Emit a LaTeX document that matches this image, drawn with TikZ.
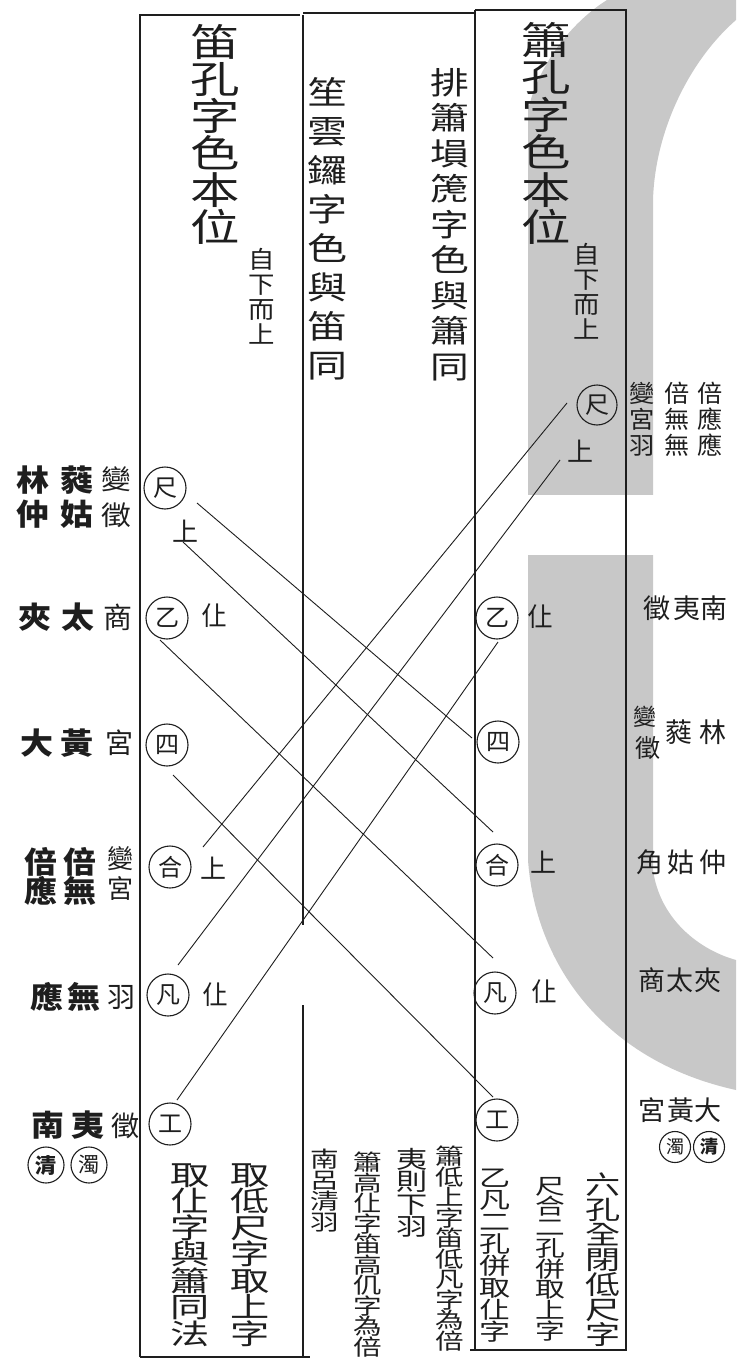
\documentclass[tikz,border=0pt]{standalone}
\usepackage{fontspec}
\usepackage{graphicx}
\setmainfont{Noto Sans CJK TC}
\usetikzlibrary{calc}
\definecolor{wm}{RGB}{200,200,200}
\definecolor{ink}{RGB}{30,30,30}
\newcommand\fz[2]{\fontsize{#1}{#2}\selectfont\lineskiplimit=-200pt\relax}
% vertical stack: #1 x-stretch, #2 font switch, #3 size, #4 leading, #5 characters separated by \\
\newcommand\VS[5]{\scalebox{#1}[1]{\vbox{#2\fz{#3}{#4}\let\\\cr\halign{\hfil##\hfil\cr#5\crcr}}}}
\newcommand\HS[2]{\scalebox{#1}[1]{#2}}
\begin{document}
\begin{tikzpicture}[x=1pt,y=-1pt,
  frame/.style={line width=1.1pt, draw=ink},
  conn/.style={line width=0.9pt, draw=ink},
  hole/.style={draw=ink, circle, line width=1.1pt, minimum size=42pt, inner sep=0pt, text=ink, font=\fz{24}{24}},
  seal/.style={draw=ink, circle, line width=1.1pt, inner sep=0pt, text=ink},
  vt/.style={anchor=north, inner sep=0pt, text=ink},
  lb/.style={inner sep=0pt, text=ink},
  bl/.style={lb, font=\bfseries\fz{30}{30}},
  rl/.style={lb, font=\fz{27}{27}},
]
\useasboundingbox (0,0) rectangle (736,1364);
\fill[white] (0,0) rectangle (736,1364);
% grey watermark band
\fill[wm] (607,0) -- (736,0) -- (736,20) .. controls (690,60) and (655,130) .. (653,200)
  -- (653,870) .. controls (660,920) and (700,950) .. (736,960) -- (736,1090)
  .. controls (600,1060) and (535,960) .. (528,860) -- (528,110)
  .. controls (540,60) and (575,20) .. (607,0) -- cycle;
\fill[white] (520,495) rectangle (660,555);
% frames
\draw[frame] (140,1357) -- (140,15) -- (300,15);
\draw[frame] (303,13) -- (475,13);
\draw[frame] (303,15) -- (303,925);
\draw[frame] (303,1005) -- (303,1357);
\draw[frame] (140,1357) -- (310,1357);
\draw[frame] (475,10) -- (475,1350);
\draw[frame] (475,10) -- (626,10) -- (626,1350) -- (470,1350);
% titles
\node[vt] (ltitle) at (215,24) {\VS{1.3}{}{38}{37}{笛\\孔\\字\\色\\本\\位}};
\node[vt] (ldir) at (262,248) {\VS{1.1}{}{24}{25}{自\\下\\而\\上}};
\node[vt] (mid1) at (327,77) {\VS{1.25}{}{32}{39}{笙\\雲\\鑼\\字\\色\\與\\笛\\同}};
\node[vt] (mid2) at (450,68) {\VS{1.25}{}{31}{35.5}{排\\簫\\塤\\箎\\字\\色\\與\\簫\\同}};
\node[vt] (rtitle) at (546,22) {\VS{1.3}{}{38}{37.5}{簫\\孔\\字\\色\\本\\位}};
\node[vt] (rdir) at (587,243) {\VS{1.1}{}{24}{25}{自\\下\\而\\上}};
% holes, left (flute)
\node[hole] (lc1) at (165,488) {尺};
\node[hole] (lc2) at (167,618) {乙};
\node[hole] (lc3) at (167,745) {四};
\node[hole] (lc4) at (170,867) {合};
\node[hole] (lc5) at (168,995) {凡};
\node[hole] (lc6) at (170,1124) {工};
% holes, right (xiao)
\node[hole, minimum size=40pt] (rc1) at (597,405) {尺};
\node[hole] (rc2) at (497,618) {乙};
\node[hole] (rc3) at (498,742) {四};
\node[hole] (rc4) at (497,865) {合};
\node[hole] (rc5) at (495,993) {凡};
\node[hole] (rc6) at (497,1120) {工};
% small marks beside holes
\node[lb, font=\fz{26}{26}] (ls) at (185,531) {上};
\node[lb, font=\fz{26}{26}] (lx2) at (214,616) {仩};
\node[lb, font=\fz{26}{26}] (lx4) at (213,868) {上};
\node[lb, font=\fz{26}{26}] (lx5) at (215,995) {仩};
\node[lb, font=\fz{26}{26}] (rs) at (580,451) {上};
\node[lb, font=\fz{26}{26}] (rx2) at (540,617) {仩};
\node[lb, font=\fz{26}{26}] (rx4) at (543,862) {上};
\node[lb, font=\fz{26}{26}] (rx5) at (544,992) {仩};
% connectors
\draw[conn] ($(lc1)+(32,15)$) -- ($(rc3)+(-26,-4)$);
\draw[conn] ($(ls)+(-2,11)$) -- ($(rc4)+(-4,-33)$);
\draw[conn] ($(rc1)+(-30,-2)$) -- ($(lc4)+(33,-20)$);
\draw[conn] ($(rs)+(-20,9)$) -- ($(lc5)+(10,-30)$);
\draw[conn] ($(rc2)+(1,24)$) -- ($(lc6)+(7,-24)$);
\draw[conn] ($(lc2)+(-7,22)$) -- ($(rc5)+(-2,-35)$);
\draw[conn] ($(lc3)+(6,30)$) -- ($(rc6)+(-4,-23)$);
% left pitch names
\node[vt] (la1) at (33,466) {\VS{1.1}{\bfseries}{30}{34}{林\\仲}};
\node[vt] (la2) at (77,466) {\VS{1.1}{\bfseries}{30}{34}{蕤\\姑}};
\node[vt] (la3) at (116,467) {\VS{1.1}{}{27}{36}{變\\徵}};
\node[bl] (lb1) at (35,617) {\HS{1.1}{夾}};
\node[bl] (lb2) at (78,617) {\HS{1.1}{太}};
\node[lb, font=\fz{29}{29}] (lb3) at (118,617) {商};
\node[bl] (lc1t) at (37,743) {\HS{1.1}{大}};
\node[bl] (lc2t) at (77,743) {\HS{1.1}{黃}};
\node[lb, font=\fz{28}{28}] (lc3t) at (119,743) {宮};
\node[vt] (ld1) at (41,847) {\VS{1.1}{\bfseries}{30}{29}{倍\\應}};
\node[vt] (ld2) at (80,847) {\VS{1.1}{\bfseries}{30}{29}{倍\\無}};
\node[vt] (ld3) at (120,846) {\VS{1.0}{}{26}{30}{變\\宮}};
\node[bl] (le1) at (47,997) {\HS{1.1}{應}};
\node[bl] (le2) at (84,997) {\HS{1.1}{無}};
\node[lb, font=\fz{28}{28}] (le3) at (121,997) {羽};
\node[bl] (lf1) at (48,1125) {\HS{1.1}{南}};
\node[bl] (lf2) at (88,1125) {\HS{1.1}{夷}};
\node[lb, font=\fz{28}{28}] (lf3) at (125,1126) {徵};
\node[seal, minimum size=36pt, font=\bfseries\fz{21}{21}] (ls1) at (46,1165) {清};
\node[seal, minimum size=36pt, font=\fz{21}{21}] (ls2) at (89,1165) {濁};
% right pitch names
\node[vt] (rg1) at (642,382) {\VS{1.05}{}{24}{26}{變\\宮\\羽}};
\node[vt] (rg2) at (677,382) {\VS{1.05}{}{24}{26}{倍\\無\\無}};
\node[vt] (rg3) at (710,382) {\VS{1.05}{}{24}{26}{倍\\應\\應}};
\node[rl] (rb1) at (657,608) {徵};
\node[rl] (rb2) at (687,608) {夷};
\node[rl] (rb3) at (714,608) {南};
\node[lb, font=\fz{23}{23}] (rc1t) at (645,717) {變};
\node[lb, font=\fz{25}{25}] (rc2t) at (648,748) {徵};
\node[rl] (rc3t) at (679,732) {蕤};
\node[rl] (rc4t) at (713,732) {林};
\node[rl] (rd1) at (650,862) {角};
\node[rl] (rd2) at (681,862) {姑};
\node[rl] (rd3) at (713,862) {仲};
\node[rl] (re1) at (652,980) {商};
\node[rl] (re2) at (680,980) {太};
\node[rl] (re3) at (708,980) {夾};
\node[rl] (rf1) at (652,1110) {宮};
\node[rl] (rf2) at (681,1110) {黃};
\node[rl] (rf3) at (708,1110) {大};
\node[seal, minimum size=31pt, font=\fz{18}{18}] (rs1) at (675,1147) {濁};
\node[seal, minimum size=31pt, font=\bfseries\fz{18}{18}] (rs2) at (709,1147) {清};
% bottom notes
\node[vt] (n1) at (250,1163) {\VS{1.4}{}{28}{26.5}{取\\低\\尺\\字\\取\\上\\字}};
\node[vt] (n2) at (190,1163) {\VS{1.4}{}{28}{26.5}{取\\仩\\字\\與\\簫\\同\\法}};
\node[vt] (n3) at (450,1146) {\VS{1.3}{}{22}{20.5}{簫\\低\\上\\字\\笛\\低\\凡\\字\\為\\倍}};
\node[vt] (n4) at (412,1148) {\VS{1.3}{}{24}{22.5}{夷\\則\\下\\羽}};
\node[vt] (n5) at (368,1152) {\VS{1.3}{}{22}{20.5}{簫\\高\\仩\\字\\笛\\高\\仉\\字\\為\\倍}};
\node[vt] (n6) at (325,1149) {\VS{1.3}{}{22}{21}{南\\呂\\清\\羽}};
\node[vt] (n7) at (603,1173) {\VS{1.35}{}{26}{25}{六\\孔\\全\\閉\\低\\尺\\字}};
\node[vt] (n8) at (550,1177) {\VS{1.35}{}{22}{20.7}{尺\\合\\二\\孔\\併\\取\\上\\字}};
\node[vt] (n9) at (495,1169) {\VS{1.35}{}{23}{22}{乙\\凡\\二\\孔\\併\\取\\仩\\字}};
\end{tikzpicture}
\end{document}
